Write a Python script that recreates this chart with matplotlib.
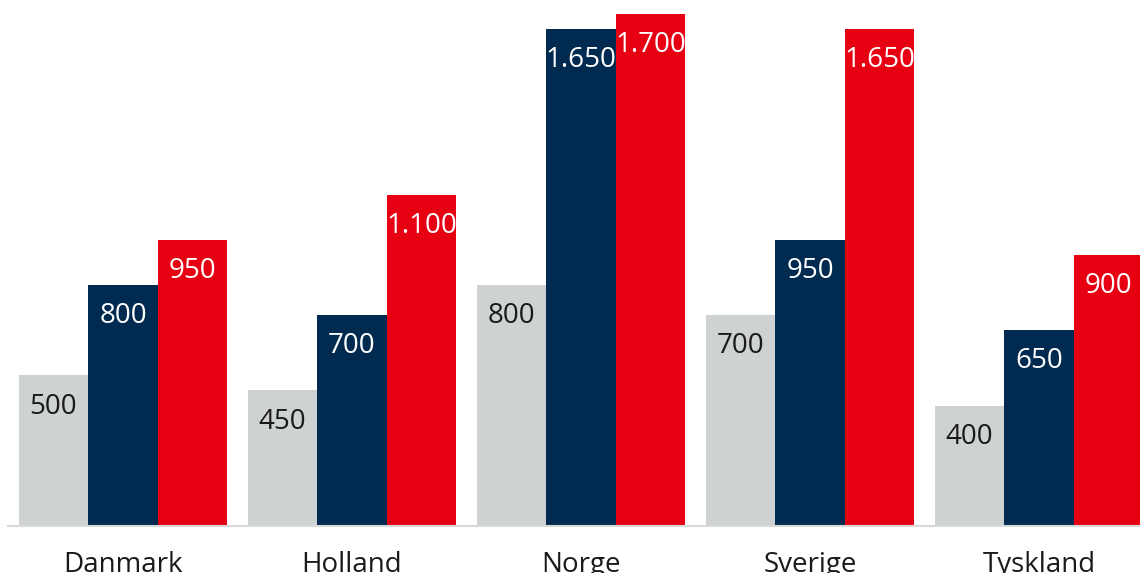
import numpy as np
import matplotlib.pyplot as plt

# data
lande = ['Danmark', 'Holland', 'Norge', 'Sverige', 'Tyskland']
serie_1 = [500, 450, 800, 700, 400]
serie_2 = [800, 700, 1650, 950, 650]
serie_3 = [950, 1100, 1700, 1650, 900]

farver = ['#CFD2D3', '#002A50', '#E60012']
tekst_farver = ['#1a1a1a', 'white', 'white']

plt.rcParams['font.family'] = ['Open Sans', 'DejaVu Sans']

fig = plt.figure(figsize=(11.4, 5.73), dpi=100)
ax = fig.add_axes([8 / 1140, 47 / 573, 1132 / 1140, 526 / 573])

x = np.arange(len(lande))
w = 0.3035

def fmt(v):
    return f'{v:,}'.replace(',', '.')

for i, (vals, farve, tf) in enumerate(zip([serie_1, serie_2, serie_3], farver, tekst_farver)):
    pos = x + (i - 1) * w
    bars = ax.bar(pos, vals, width=w, color=farve, linewidth=0)
    for b, v in zip(bars, vals):
        ax.annotate(fmt(v), (b.get_x() + b.get_width() / 2, v),
                    xytext=(0, -22.5), textcoords='offset points',
                    ha='center', va='center', color=tf, fontsize=20)

ax.set_xlim(-0.502, 4.441)
ax.set_ylim(0, 1700 * 526 / 512)

for s in ['top', 'right', 'left']:
    ax.spines[s].set_visible(False)
ax.spines['bottom'].set_color('#D9D9D9')
ax.spines['bottom'].set_linewidth(1.5)

ax.set_yticks([])
ax.set_xticks(x)
ax.set_xticklabels(lande, fontsize=20, color='#1a1a1a')
ax.tick_params(axis='x', length=0, pad=18)

fig.savefig('out.png', dpi=100)
